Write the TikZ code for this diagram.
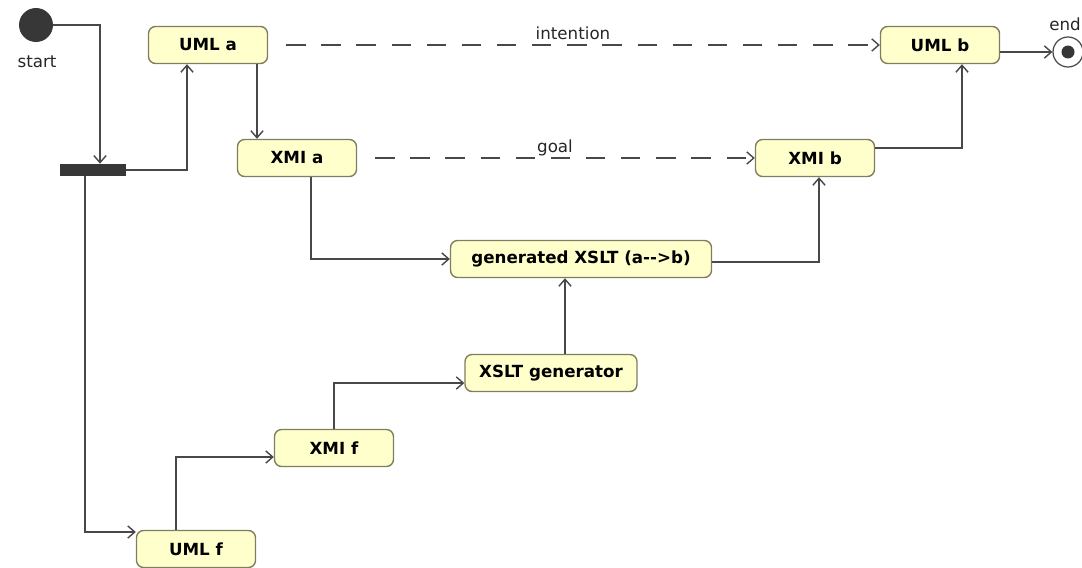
\documentclass[tikz,border=0pt]{standalone}
\usepackage{fontspec}
\setmainfont{DejaVu Sans}
\usetikzlibrary{arrows.meta,calc}
\definecolor{boxfill}{RGB}{255,255,204}
\definecolor{boxline}{RGB}{128,126,96}
\definecolor{wire}{RGB}{72,72,72}
\definecolor{blob}{RGB}{55,55,55}
\begin{document}
\begin{tikzpicture}
	[x=0.02cm,y=-0.02cm,
	state/.style={rectangle,rounded corners=4pt,draw=boxline,fill=boxfill,line width=0.8pt,minimum width=2.38cm,minimum height=0.74cm,inner sep=2pt,font=\bfseries\fontsize{9.5}{11}\selectfont},
	flow/.style={->,wire,line width=0.8pt},
	wish/.style={flow,dash pattern=on 11pt off 9pt},
	lbl/.style={font=\fontsize{9.5}{11}\selectfont,text=black!85},
	>={Straight Barb[length=4pt,width=7pt]}]
	\useasboundingbox (0,0) rectangle (1082,568);
	\node[circle,fill=blob,minimum size=0.68cm,inner sep=0pt,name=start]at(36,25){};
	\node[lbl,name=startlbl]at(37,62){start};
	\node[rectangle,fill=blob,minimum width=1.32cm,minimum height=0.24cm,inner sep=0pt,name=bar]at(93,170){};
	\node[state,name=umla]at(208,45){UML a};
	\node[state,name=xmia]at(297,158){XMI a};
	\node[state,name=umlb]at(940,45){UML b};
	\node[state,name=xmib]at(815,158){XMI b};
	\node[state,minimum width=5.22cm,name=gen]at(581,259){generated XSLT (a-{}->b)};
	\node[state,minimum width=3.44cm,name=xsltgen]at(551,373){XSLT generator};
	\node[state,name=xmif]at(334,448){XMI f};
	\node[state,name=umlf]at(196,549){UML f};
	\node[circle,draw=wire,fill=white,line width=0.7pt,minimum size=0.6cm,inner sep=0pt,name=end]at(1068,52){};
	\fill[blob] (end) circle (0.13cm);
	\node[lbl,name=endlbl]at(1065,24){end};
	\node[lbl,name=intent]at(573,33){intention};
	\node[lbl,name=goal]at(555,148){goal};
	\draw[flow] (start) -| ($(bar.north)+(7,0)$);
	\draw[flow] (bar.east) -| ($(umla.south)+(-21,0)$);
	\draw[flow] ($(umla.south)+(49,0)$) -- ($(xmia.north)+(-40,0)$);
	\draw[flow] ($(bar.south)+(-8,0)$) |- ($(umlf.west)+(0,-17)$);
	\draw[flow] ($(umlf.north)+(-20,0)$) |- ($(xmif.west)+(0,9)$);
	\draw[flow] (xmif.north) |- ($(xsltgen.west)+(0,10)$);
	\draw[flow] ($(xsltgen.north)+(14,0)$) -- ($(gen.south)+(-16,0)$);
	\draw[flow] ($(xmia.south)+(14,0)$) |- (gen.west);
	\draw[flow] ($(gen.east)+(0,3)$) -| ($(xmib.south)+(4,0)$);
	\draw[flow] ($(xmib.east)+(0,-10)$) -| ($(umlb.south)+(22,0)$);
	\draw[flow] ($(umlb.east)+(0,7)$) -- (end);
	\draw[wish] ($(umla.east)+(18,0)$) -- (umlb.west);
	\draw[wish] ($(xmia.east)+(18,0)$) -- (xmib.west);
\end{tikzpicture}
\end{document}
